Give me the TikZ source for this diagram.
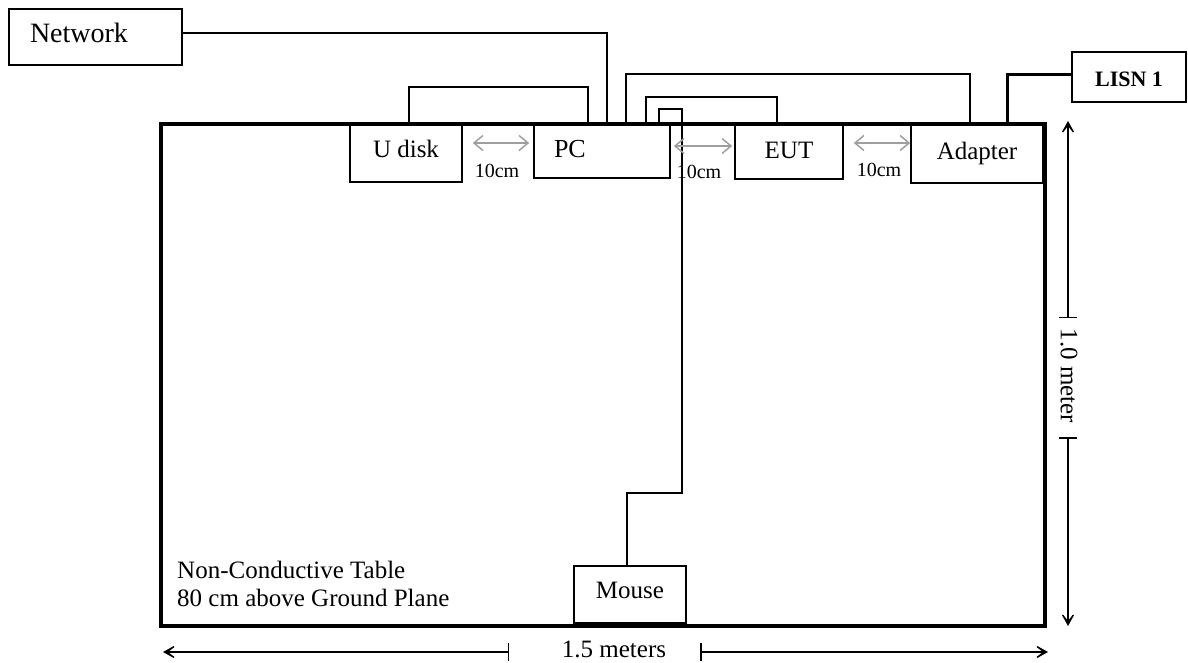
\documentclass[tikz,border=0pt]{standalone}
\usepackage{fontspec}
\setmainfont{Liberation Serif}
\usetikzlibrary{arrows.meta}
\begin{document}
\begin{tikzpicture}[x=1pt,y=-1pt,
  box/.style={draw, line width=1.6pt, inner sep=0pt, text height=16.5pt, text depth=5pt, font=\fontsize{25}{28}\selectfont},
  wire/.style={line width=1.5pt},
  thickwire/.style={line width=3pt},
  gaparrow/.style={draw=gray!75, line width=1.5pt, {Straight Barb[length=9pt,width=15pt]}-{Straight Barb[length=9pt,width=15pt]}},
  dimline/.style={line width=1.5pt, {Bar[width=18pt]}-{Stealth[length=18pt,width=20pt,inset=13pt]}},
  gaplbl/.style={font=\fontsize{20}{22}\selectfont, inner sep=0pt},
  tabtxt/.style={font=\fontsize{25}{28}\selectfont, inner sep=0pt}
]
\useasboundingbox (0,0) rectangle (1188,663);
% table
\node[draw, line width=4pt, minimum width=884pt, minimum height=502pt, inner sep=0pt] (table) at (603,375) {};
\node[tabtxt, anchor=base west] (t1) at (177,578) {Non-Conductive Table};
\node[tabtxt, anchor=base west] (t2) at (177,606) {80 cm above Ground Plane};
% boxes
\node[box, minimum height=56pt, text width=131pt, inner xsep=21pt, align=left, font=\fontsize{28}{30}\selectfont, text depth=5pt] (net) at (95.5,37) {Network};
\node[box, minimum width=112pt, minimum height=58pt, text depth=8pt] (udisk) at (406,153) {U disk};
\node[box, minimum height=54pt, text width=96pt, inner xsep=20pt, align=left, font=\fontsize{26}{28}\selectfont, text depth=3pt] (pc) at (602,151) {PC};
\node[box, minimum width=108pt, minimum height=55pt, text depth=2pt] (eut) at (789,151.5) {EUT};
\node[box, minimum width=132pt, minimum height=59pt, text depth=4pt] (adapter) at (977,153.5) {Adapter};
\node[box, minimum width=112pt, minimum height=57pt, text depth=9pt] (mouse) at (630,594.5) {Mouse};
\node[box, minimum width=114pt, minimum height=50pt, font=\fontsize{22}{25}\selectfont\bfseries, text height=18.5pt, text depth=0pt] (lisn) at (1129,77) {LISN 1};
% wires
\draw[wire] ([yshift=4pt]net.east) -| ([xshift=5pt]pc.north);
\draw[wire] ([xshift=3pt]udisk.north) -- ++(0,-36) -| ([xshift=-14pt]pc.north);
\draw[wire] ([xshift=24pt]pc.north) -- ++(0,-49) -| ([xshift=-7pt]adapter.north);
\draw[wire] ([xshift=44pt]pc.north) -- ++(0,-26) -| ([xshift=-12pt]eut.north);
\draw[wire] ([xshift=57pt]pc.north) -- ++(0,-14) -- ++(23,0) -- ++(0,384) -| ([xshift=-3pt]mouse.north);
\draw[thickwire] ([yshift=2pt]lisn.west) -| ([xshift=30pt]adapter.north);
% 10cm gaps
\draw[gaparrow, shorten <=10pt, shorten >=4pt] ([yshift=10pt]udisk.east) -- ([yshift=8pt]pc.west);
\node[gaplbl] (g1) at (497,171) {10cm};
\draw[gaparrow, shorten <=3pt, shorten >=2pt] ([yshift=5pt]pc.east) -- ([yshift=5.5pt]eut.west);
\node[gaplbl] (g2) at (699,172) {10cm};
\draw[gaparrow, shorten <=10pt, shorten >=0pt] ([yshift=8.5pt]eut.east) -- ([yshift=10.5pt]adapter.west);
\node[gaplbl] (g3) at (879,170) {10cm};
% dimensions
\coordinate (hL) at (163,652);
\coordinate (hT1) at (509,652);
\coordinate (hT2) at (700,652);
\coordinate (hR) at (1048,652);
\draw[dimline] (hT1) -- (hL);
\draw[dimline] (hT2) -- (hR);
\node[tabtxt] (wl) at (614,649) {1.5 meters};
\coordinate (vT) at (1068,121);
\coordinate (vt1) at (1068,318);
\coordinate (vt2) at (1068,437);
\coordinate (vB) at (1068,626);
\draw[dimline] (vt1) -- (vT);
\draw[dimline] (vt2) -- (vB);
\node[tabtxt, rotate=-90] (hl) at (1069,376) {1.0 meter};
\end{tikzpicture}
\end{document}
